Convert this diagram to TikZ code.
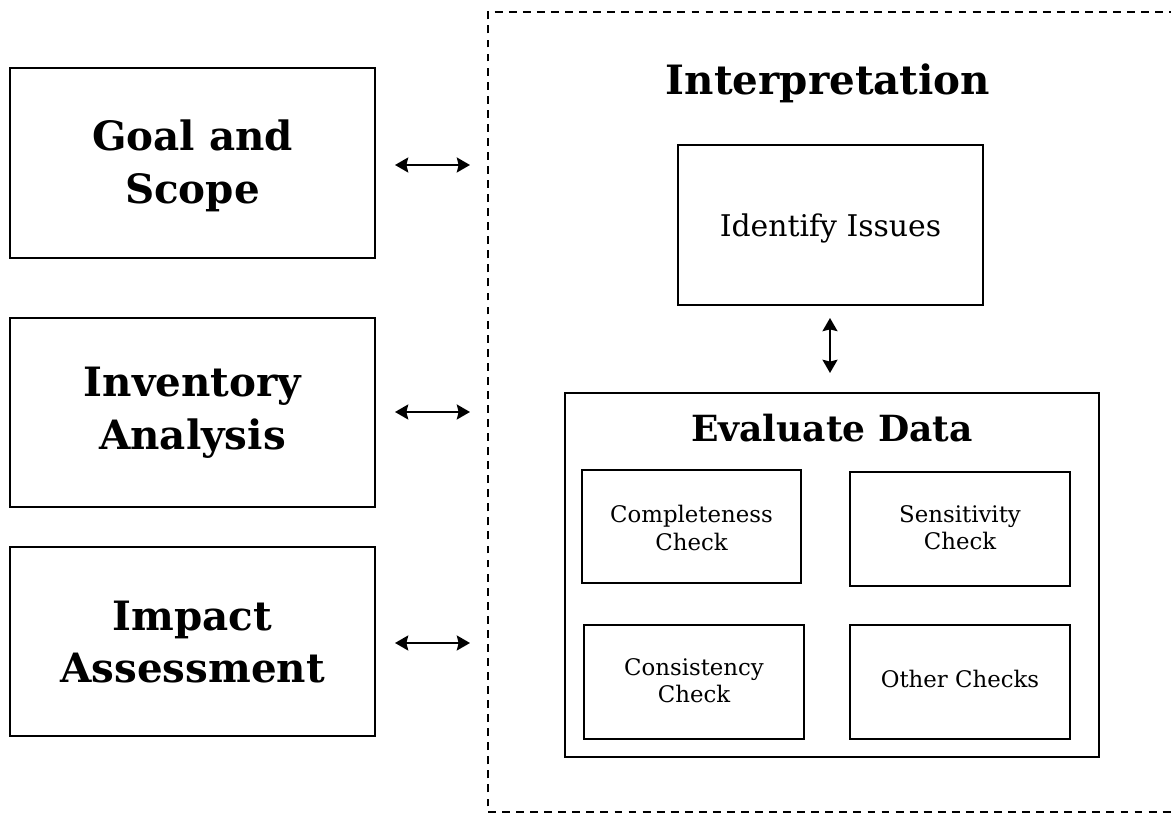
\documentclass[tikz,border=0pt]{standalone}
\usepackage{fontspec}
\setmainfont{DejaVu Serif}
\usetikzlibrary{arrows.meta}
\begin{document}
\begin{tikzpicture}[x=0.02cm,y=-0.02cm,
  box/.style={draw,line width=1.25pt},
  phase/.style={font=\bfseries\fontsize{23}{30}\selectfont,align=center},
  check/.style={font=\fontsize{13}{15.5}\selectfont,align=center},
  link/.style={line width=1.25pt,{Stealth[length=7.5pt,width=8.5pt,inset=1pt]}-{Stealth[length=7.5pt,width=8.5pt,inset=1pt]}}]
\useasboundingbox (0,0) rectangle (1171,813);
% outer dashed frame of the interpretation phase (runs past the right edge)
\begin{scope}
\clip (0,0) rectangle (1171,813);
\draw[line width=1.2pt,dash pattern=on 4.5pt off 3.5pt] (488,1200) -- (488,12) -- (1400,12);
\draw[line width=1.2pt,dash pattern=on 4.5pt off 3.5pt] (488,812) -- (1400,812);
\end{scope}
% left column: LCA phases
\draw[box] (10,68) rectangle (375,258);
\node[phase] (goal) at (192.5,166) {Goal and\\Scope};
\draw[box] (10,318) rectangle (375,507);
\node[phase] (inv) at (192.5,413) {Inventory\\Analysis};
\draw[box] (10,547) rectangle (375,736);
\node[phase] (imp) at (192.5,642) {Impact\\Assessment};
\coordinate (a1l) at (395,165); \coordinate (a1r) at (470,165);
\coordinate (a2l) at (395,412); \coordinate (a2r) at (470,412);
\coordinate (a3l) at (395,643); \coordinate (a3r) at (470,643);
\draw[link] (a1l) -- (a1r);
\draw[link] (a2l) -- (a2r);
\draw[link] (a3l) -- (a3r);
% interpretation
\node[phase] (interp) at (828,83) {Interpretation};
\draw[box] (678,145) rectangle (983,305);
\node[font=\fontsize{17}{20}\selectfont] (issues) at (830.5,228) {Identify Issues};
\draw[box] (565,393) rectangle (1099,757);
\node[font=\bfseries\fontsize{20.5}{24}\selectfont] (eval) at (832,428) {Evaluate Data};
\coordinate (v1) at (830,318); \coordinate (v2) at (830,373);
\draw[link] (v1) -- (v2);
\draw[box] (582,470) rectangle (801,583);
\node[check] (comp) at (691.5,528) {Completeness\\Check};
\draw[box] (850,472) rectangle (1070,586);
\node[check] (sens) at (960,528) {Sensitivity\\Check};
\draw[box] (584,625) rectangle (804,739);
\node[check] (cons) at (694,681) {Consistency\\Check};
\draw[box] (850,625) rectangle (1070,739);
\node[check] (other) at (960,679) {Other Checks};
\end{tikzpicture}
\end{document}
